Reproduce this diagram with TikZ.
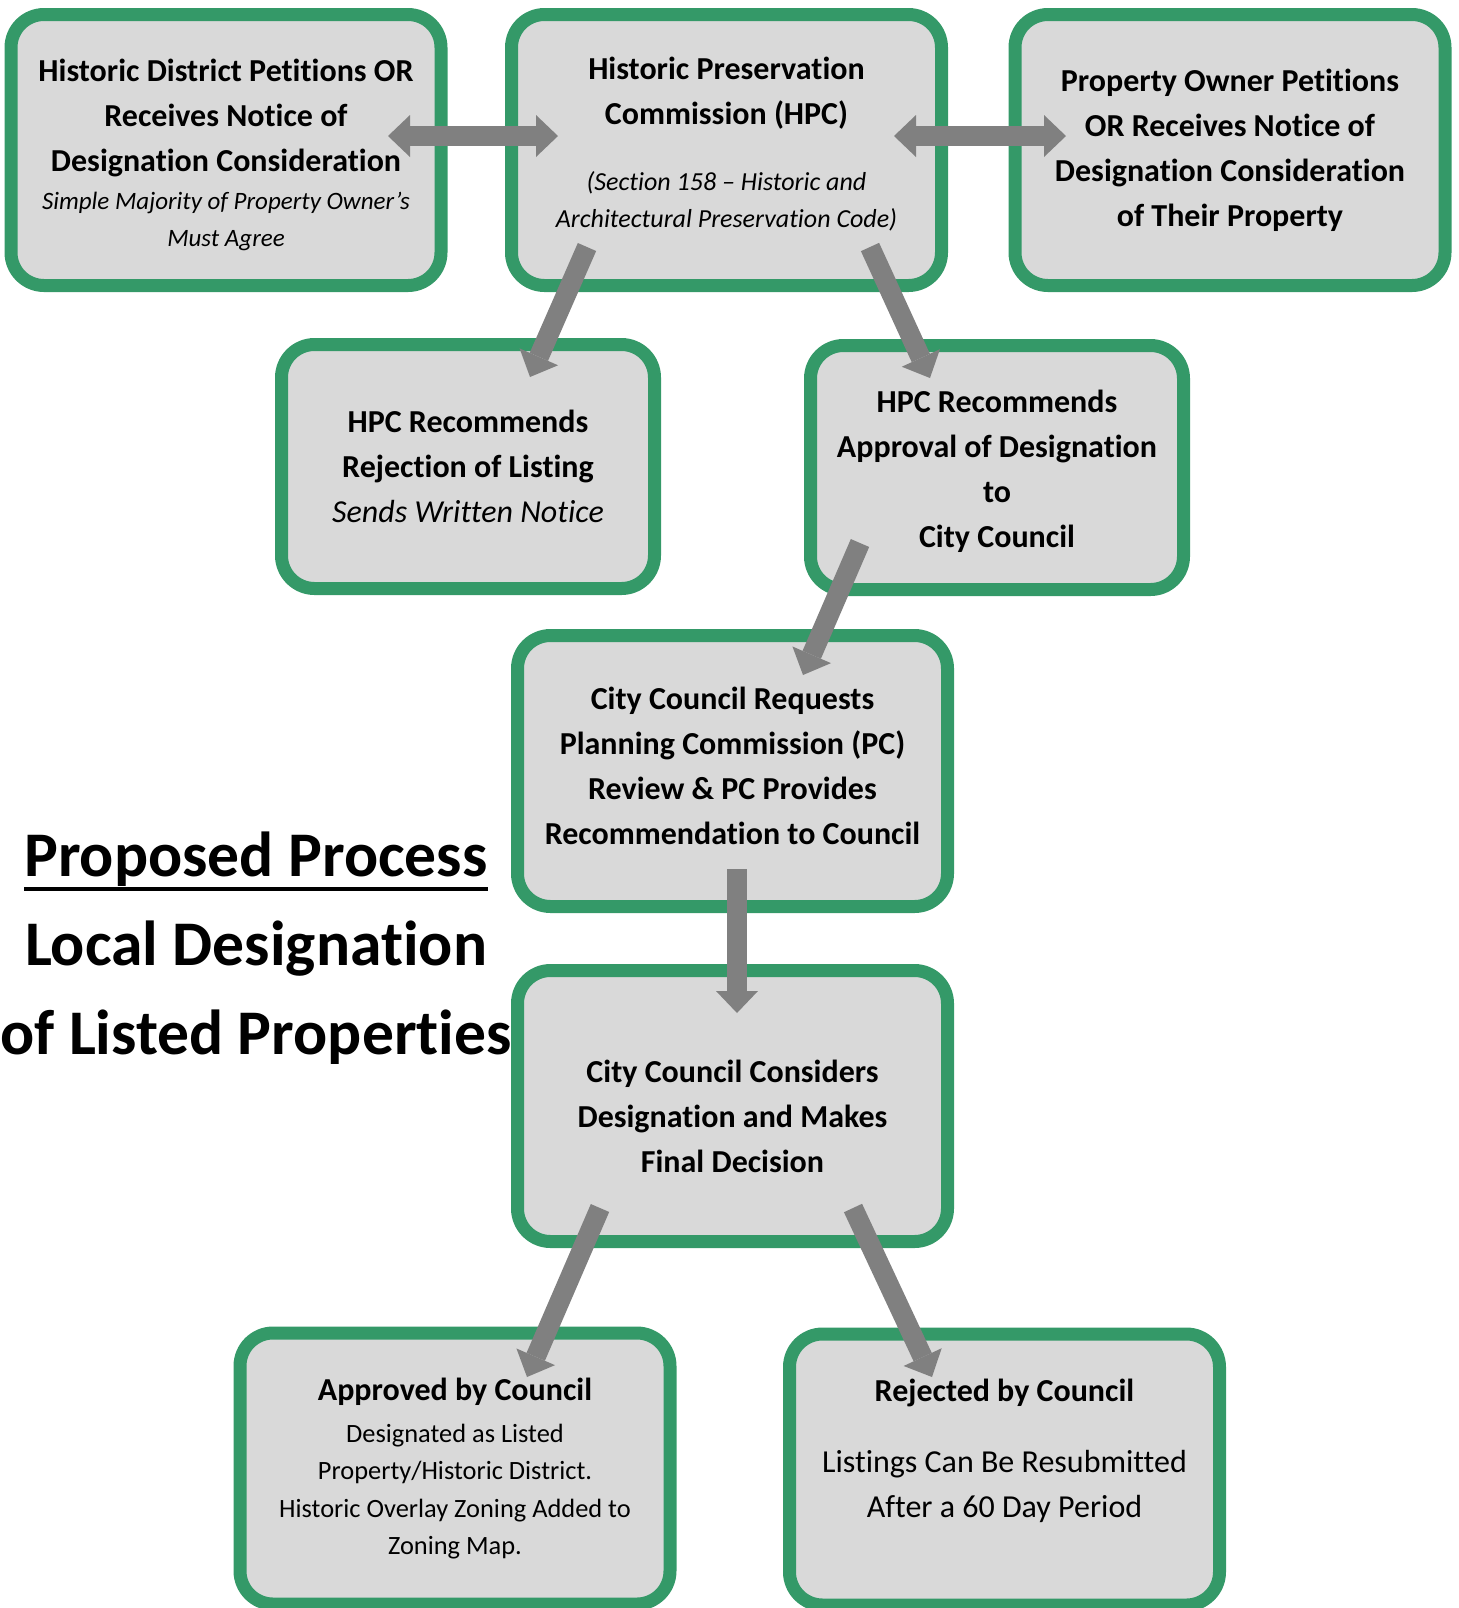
\documentclass[tikz,border=0pt]{standalone}
\usepackage{fontspec}
\setmainfont{Carlito}[Ligatures={TeX,NoCommon}]
\usetikzlibrary{arrows.meta}
\definecolor{boxgreen}{RGB}{52,153,104}
\definecolor{boxgray}{RGB}{217,217,217}
\definecolor{arrowgray}{RGB}{128,128,128}
\newcommand{\itnote}[2][12.5]{{\fontsize{#1}{18}\selectfont\mdseries\itshape #2}}
\newcommand{\rmnote}[1]{{\fontsize{13.2}{18}\selectfont\mdseries #1}}
\newcommand{\titleline}[1]{\setbox0\hbox{#1}\rlap{\rule[-7.5pt]{\wd0}{2pt}}\box0}

\begin{document}
\begin{tikzpicture}[x=0.5pt,y=-0.5pt,line join=round,
  stepbox/.style={draw=boxgreen,fill=boxgray,line width=6.5pt,rounded corners=16.5pt,align=center,inner sep=0pt,
    minimum width=215pt,minimum height=135.5pt,font=\fontsize{16}{22.5}\selectfont\bfseries},
  smallbox/.style={stepbox,minimum width=186.5pt,minimum height=122pt},
  flow/.style={draw=arrowgray,line width=10pt,line cap=butt,-{Triangle[width=21pt,length=11pt,line width=0pt]}},
  twoway/.style={flow,{Triangle[width=21pt,length=11pt,line width=0pt]}-{Triangle[width=21pt,length=11pt,line width=0pt]}}]
\useasboundingbox (0,0) rectangle (1458,1608);
\node[stepbox] (hdp) at (226,150) {\rule{0pt}{16.5pt}Historic District Petitions OR\\Receives Notice of\\Designation Consideration\\[-3.5pt]
  \itnote{Simple Majority of Property Owner's}\\[-4pt]\itnote{Must Agree}};
\node[stepbox] (hpc) at (726.5,150) {Historic Preservation\\Commission (HPC)\\[10.5pt]
  \itnote[13]{(Section 158 -- Historic and}\\[-4pt]\itnote[13]{Architectural Preservation Code)}\rule[-7.5pt]{0pt}{7.5pt}};
\node[stepbox] (pown) at (1230,150) {Property Owner Petitions\\OR Receives Notice of\\Designation Consideration\\of Their Property};
\node[smallbox] (rej) at (468,466.5) {HPC Recommends\\Rejection of Listing\\{\mdseries\itshape Sends Written Notice}};
\node[smallbox] (app) at (997,467.5) {\rule{0pt}{15pt}HPC Recommends\\Approval of Designation\\to\\City Council};
\node[stepbox] (ccr) at (732.5,771) {City Council Requests\\Planning Commission (PC)\\Review \& PC Provides\\Recommendation to Council\rule[-5pt]{0pt}{5pt}};
\node[stepbox] (ccc) at (732.5,1106) {\rule{0pt}{22pt}City Council Considers\\Designation and Makes\\Final Decision};
\node[stepbox] (yes) at (455,1468.5) {Approved by Council\\[-1.5pt]\rmnote{Designated as Listed}\\[-3.75pt]
  \rmnote{Property/Historic District.}\\[-3.75pt]\rmnote{Historic Overlay Zoning Added to}\\[-3.75pt]\rmnote{Zoning Map.}};
\node[stepbox] (no) at (1004.5,1469.5) {Rejected by Council\\[13pt]{\mdseries Listings Can Be Resubmitted}\\{\mdseries After a 60 Day Period}\rule[-21pt]{0pt}{21pt}};
\node[align=center,font=\fontsize{31.8}{44.5}\selectfont\bfseries] (title) at (256,948) {\titleline{Proposed Process}\\Local Designation\\of Listed Properties};
%
\coordinate (hdpIn) at (388,136);  \coordinate (hpcW) at (558,136);
\coordinate (hpcE) at (894,136);   \coordinate (pownIn) at (1066,136);
\coordinate (hpcL) at (587,247);   \coordinate (rejIn) at (530,377);
\coordinate (hpcR) at (870,247);   \coordinate (appIn) at (930,378);
\coordinate (appOut) at (860,543); \coordinate (ccrIn) at (803,675);
\coordinate (ccrOut) at (737,869); \coordinate (cccIn) at (737,1013);
\coordinate (cccL) at (600,1208);  \coordinate (yesIn) at (527,1377);
\coordinate (cccR) at (853,1208);  \coordinate (noIn) at (932,1377);
\foreach \s/\t in {hpcL/rejIn,hpcR/appIn,appOut/ccrIn,ccrOut/cccIn,cccL/yesIn,cccR/noIn}
\draw[flow] (\s) -- (\t);
\draw[twoway] (hdpIn) -- (hpcW);
\draw[twoway] (hpcE) -- (pownIn);
\end{tikzpicture}
\end{document}
